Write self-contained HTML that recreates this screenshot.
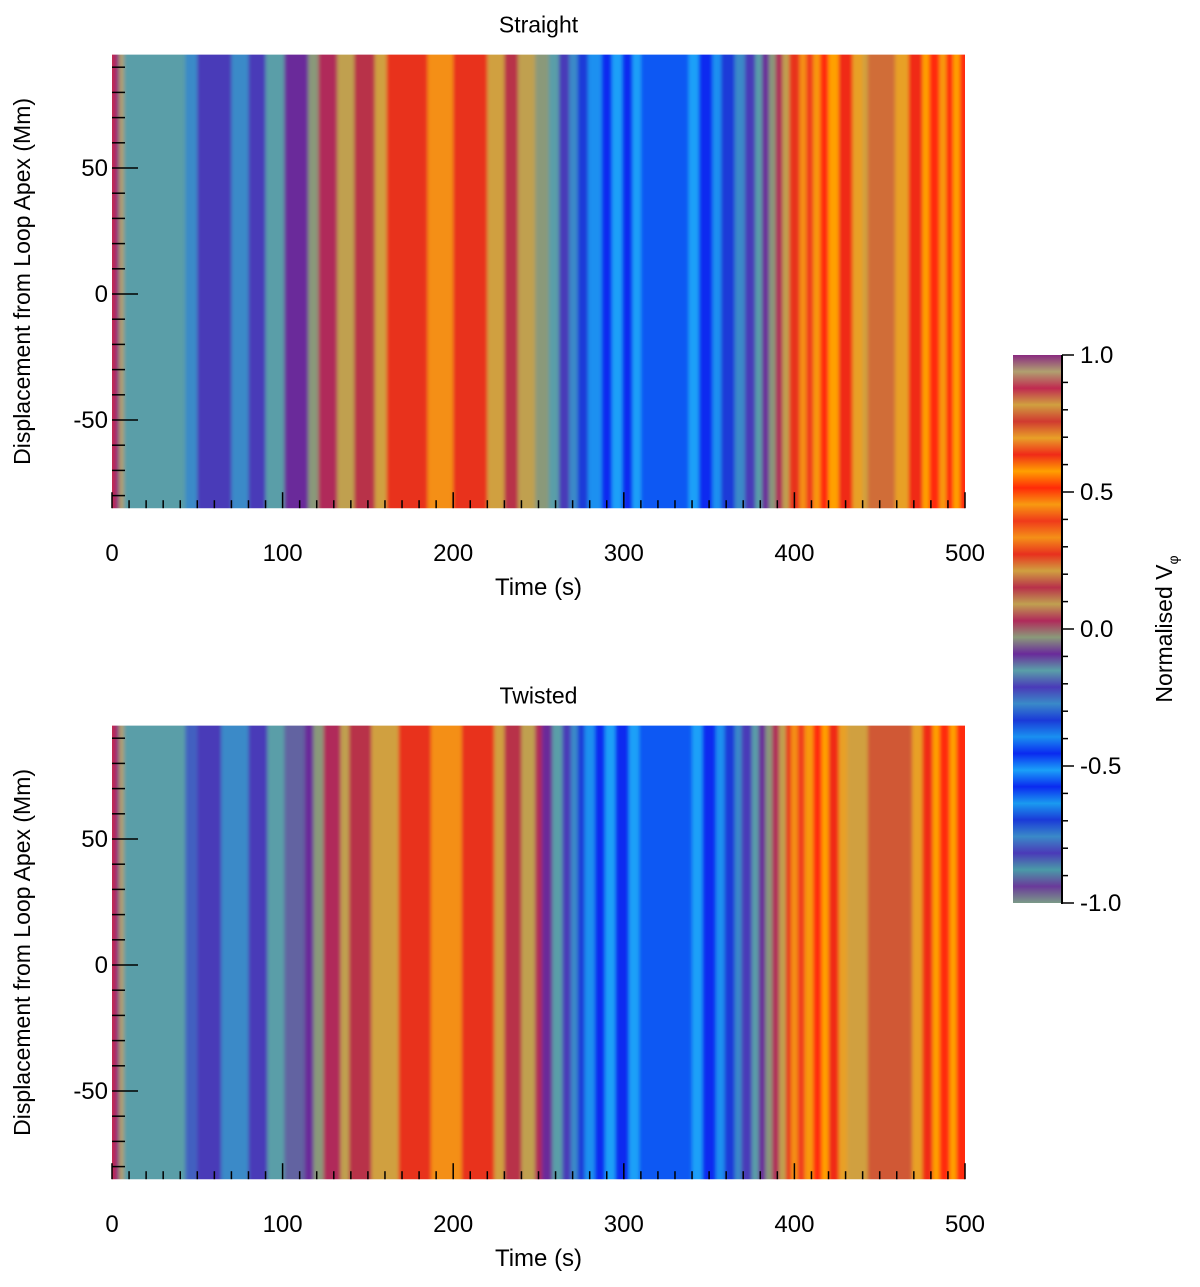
<!DOCTYPE html>
<html><head><meta charset="utf-8">
<style>
body{margin:0;background:#fff;}
svg{display:block;font-family:"Liberation Sans",sans-serif;}
</style></head>
<body>
<svg id="fig" width="1200" height="1287" viewBox="0 0 1200 1287"></svg>
<script>
// colormap stops from -1 (index 0) to +1 (last)
const cmapStops = ["#7a9a88","#6a3a9a","#4a9aa8","#4a3ab8","#3a8ac8","#1a3ad8","#1a9af0","#0a2af0","#1aa0f8","#0a2af0","#1a90f0","#1a3ad8","#3a8ac8","#4a3ab8","#5a9fa8","#6a2a9a","#8a9a7a","#b02a5a","#c0a050","#b8304a","#d0a040","#e8301e","#f49018","#f03a1a","#f89a10","#ff2a08","#ffa000","#f02a18","#e8a028","#d03a30","#d0a040","#c02a50","#b0a070","#8a2a80"];
// Straight panel: segment end times (s) and normalised V_phi values
const straightT = [2,4,7,43,50,64,70,80,90,101,115,121,132,142,154,161,185,200,220,230,238,248,256,262,268,273,279,287,293,299,305,310,338,344,352,357,365,371,377,381,385,389,393,397,403,407,411,415,420,426,434,440,443,459,467,475,479,485,489,493,497,500];
const straightV = [0.879,1.0,0.939,-0.152,-0.273,-0.212,-0.212,-0.273,-0.212,-0.152,-0.091,-0.030,0.030,0.091,0.152,0.212,0.273,0.333,0.273,0.212,0.152,0.091,-0.030,-0.152,-0.212,-0.273,-0.333,-0.394,-0.455,-0.515,-0.576,-0.515,-0.552,-0.515,-0.455,-0.394,-0.333,-0.273,-0.212,-0.152,-0.091,-0.030,0.030,0.091,0.273,0.333,0.394,0.455,0.515,0.576,0.636,0.697,0.818,0.788,0.697,0.636,0.576,0.515,0.455,0.515,0.576,0.515];
// Twisted panel
const twistedT = [2,4,7,43,50,64,80,91,101,113,118,124,134,139,152,168,187,205,224,230,240,248,252,258,264,269,273,277,283,289,295,303,309,340,346,354,359,365,369,375,379,383,387,391,395,398,402,406,411,416,420,426,431,436,443,469,475,481,485,491,495,500];
const twistedV = [0.879,1.0,0.939,-0.152,-0.242,-0.212,-0.273,-0.212,-0.152,-0.121,-0.091,-0.030,0.030,0.091,0.152,0.212,0.273,0.333,0.273,0.212,0.152,0.091,0.030,-0.091,-0.152,-0.212,-0.273,-0.333,-0.394,-0.455,-0.515,-0.576,-0.515,-0.552,-0.515,-0.455,-0.394,-0.333,-0.273,-0.212,-0.152,-0.091,-0.030,0.030,0.091,0.273,0.333,0.394,0.455,0.515,0.576,0.636,0.697,0.818,0.818,0.776,0.697,0.636,0.576,0.515,0.576,0.515];
const xTicks = [0,100,200,300,400,500];
const yTicks = [-50,0,50];
const cbTicks = [1.0,0.5,0.0,-0.5,-1.0];
const cbLabels = ["1.0","0.5","0.0","-0.5","-1.0"];

const NS="http://www.w3.org/2000/svg";
const svg=document.getElementById('fig');
function mk(tag,attrs,parent){const e=document.createElementNS(NS,tag);for(const k in attrs)e.setAttribute(k,attrs[k]);(parent||svg).appendChild(e);return e;}
function hex(h){return [1,3,5].map(i=>parseInt(h.substr(i,2),16));}
function cmap(v){const f=(v+1)/2*(cmapStops.length-1);const i=Math.max(0,Math.min(cmapStops.length-2,Math.floor(f)));const r=Math.max(0,Math.min(1,f-i));const a=hex(cmapStops[i]),b=hex(cmapStops[i+1]);const c=a.map((x,k)=>Math.round(x+(b[k]-x)*r));return `rgb(${c[0]},${c[1]},${c[2]})`;}

const defs=mk('defs',{});
const flt=mk('filter',{id:'soft',x:'-5%',y:'-5%',width:'110%',height:'110%'},defs);
mk('feGaussianBlur',{stdDeviation:'1.8 0'},flt);

function panel(name,title,yZero,ts,vs){
  const x0=112,x1=965,tMax=500,yScale=2.52,yMin=-85,yMax=95;
  const sx=t=>x0+(x1-x0)*t/tMax;
  const sy=v=>yZero-v*yScale;
  const g=mk('g',{});
  
  
  const cp=mk('clipPath',{id:'clip-'+name},defs);
  mk('rect',{x:x0,y:sy(yMax),width:x1-x0,height:sy(yMin)-sy(yMax)},cp);
  const outer=mk('g',{'clip-path':'url(#clip-'+name+')'},g);
  const inner=mk('g',{filter:'url(#soft)'},outer);
  let prev=0;
  for(let i=0;i<ts.length;i++){
    let xa=sx(prev), xb=sx(ts[i]);
    if(i===0) xa-=8;
    if(i===ts.length-1) xb+=8;
    const r=mk('rect',{x:xa,y:sy(yMax)-5,width:xb-xa+0.6,height:sy(yMin)-sy(yMax)+10,fill:cmap(vs[i])},inner);
    
    
    prev=ts[i];
  }
  const tt=mk('text',{x:(x0+x1)/2,y:sy(yMax)-22,'text-anchor':'middle','font-size':23},g);
  tt.textContent=title;
  
  
  const yb=sy(yMin);
  for(let t=0;t<=500;t+=10){
    const major=t%100===0;
    const l=mk('line',{x1:sx(t),x2:sx(t),y1:yb,y2:yb-(major?16:8),stroke:'#000','stroke-width':1.5},g);
    
    
  }
  xTicks.forEach(t=>{const e=mk('text',{x:sx(t),y:yb+53,'text-anchor':'middle','font-size':24},g);e.textContent=t;
    
    });
  for(let v=-80;v<=90;v+=10){
    const major=v%50===0;
    const l=mk('line',{x1:x0,x2:x0+(major?26:13),y1:sy(v),y2:sy(v),stroke:'#000','stroke-width':1.5},g);
    
    
  }
  yTicks.forEach(v=>{const e=mk('text',{x:x0-4,y:sy(v)+8,'text-anchor':'end','font-size':24},g);e.textContent=v;
    
    });
  const xl=mk('text',{x:(x0+x1)/2,y:yb+87,'text-anchor':'middle','font-size':24},g);xl.textContent='Time (s)';
  
  
  const cy=(sy(yMax)+yb)/2;
  const yl=mk('text',{x:30,y:cy,'text-anchor':'middle','font-size':23,transform:`rotate(-90 30 ${cy})`},g);yl.textContent='Displacement from Loop Apex (Mm)';
  
  
}
panel('straight','Straight',294,straightT,straightV);
panel('twisted','Twisted',965,twistedT,twistedV);

// colorbar
const cbX=1013,cbW=48,cbTop=355,cbBot=903;
const cy=v=>cbBot-(v+1)/2*(cbBot-cbTop);
const grad=mk('linearGradient',{id:'cbg',x1:0,y1:1,x2:0,y2:0},defs);
cmapStops.forEach((c,i)=>mk('stop',{offset:i/(cmapStops.length-1),'stop-color':c},grad));
const cb=mk('rect',{x:cbX,y:cbTop,width:cbW,height:cbBot-cbTop,fill:'url(#cbg)'});


const ax=mk('line',{x1:cbX+cbW+1,x2:cbX+cbW+1,y1:cbTop,y2:cbBot+1,stroke:'#000','stroke-width':2});


for(let k=0;k<=20;k++){const v=-1+k*0.1;const major=k%5===0;
  const l=mk('line',{x1:cbX+cbW+1,x2:cbX+cbW+(major?13:7),y1:cy(v),y2:cy(v),stroke:'#000','stroke-width':1.5});
  
  }
cbTicks.forEach((v,i)=>{const e=mk('text',{x:1080,y:cy(v)+8,'font-size':24});e.textContent=cbLabels[i];
  
  });
const cl=mk('text',{x:1172,y:629,'text-anchor':'middle','font-size':23,transform:'rotate(-90 1172 629)'});
cl.innerHTML='Normalised V<tspan font-size="14" dy="6">φ</tspan>';


</script>
</body></html>
